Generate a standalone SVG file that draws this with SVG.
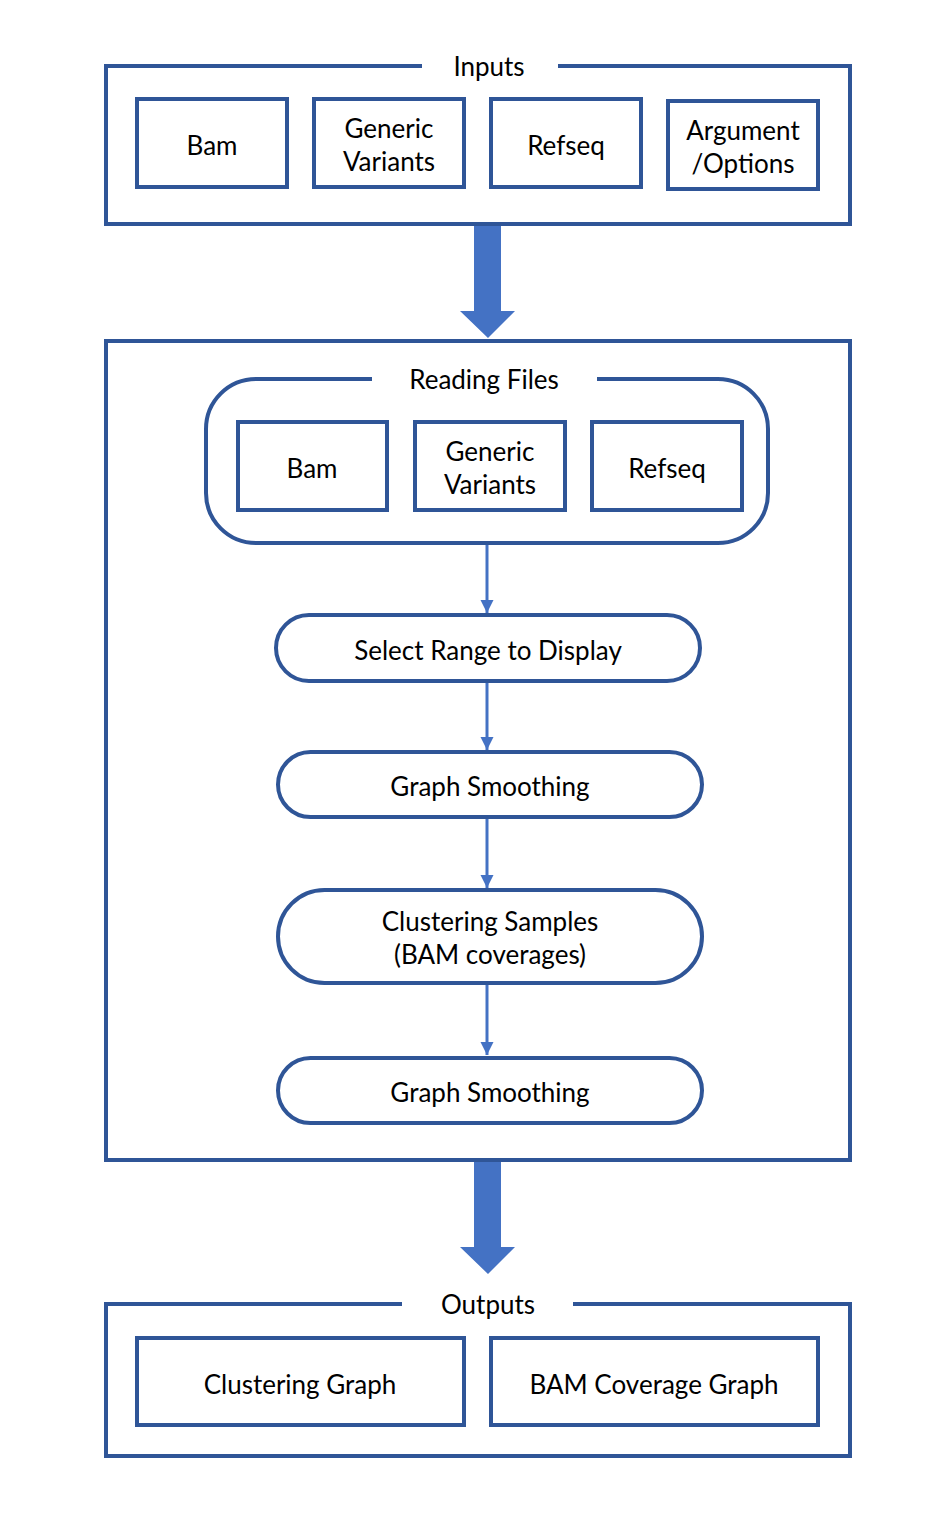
<svg xmlns="http://www.w3.org/2000/svg" width="926" height="1514" viewBox="0 0 926 1514">
<defs>
<style>
.box{fill:#fff;stroke:#2F5597;stroke-width:4}
.frame{fill:none;stroke:#2F5597;stroke-width:4}
.t{font-family:Lato,"Liberation Sans",sans-serif;font-size:26px;fill:#000;text-anchor:middle;dominant-baseline:central}
.conn{stroke:#4472C4;stroke-width:3;fill:none}
.big{fill:#4472C4}
</style>
<marker id="ah" viewBox="0 0 10 10" refX="10" refY="5" markerWidth="4.5" markerHeight="4.5" markerUnits="strokeWidth" orient="auto">
<path d="M0,0 L10,5 L0,10 z" fill="#4472C4"/>
</marker>
</defs>
<rect width="926" height="1514" fill="#fff"/>

<g id="inputs">
<path class="frame" d="M422,66 H106 V224 H850 V66 H558"/>
<text class="t" x="489" y="66">Inputs</text>
</g>
<g id="in-bam"><rect class="box" x="137" y="99" width="150" height="88"/><text class="t" x="212" y="145">Bam</text></g>
<g id="in-gv"><rect class="box" x="314" y="99" width="150" height="88"/><text class="t" x="389" y="128">Generic</text><text class="t" x="389" y="161">Variants</text></g>
<g id="in-refseq"><rect class="box" x="491" y="99" width="150" height="88"/><text class="t" x="566" y="145">Refseq</text></g>
<g id="in-args"><rect class="box" x="668" y="101" width="150" height="88"/><text class="t" x="743" y="130">Argument</text><text class="t" x="743" y="163">/Options</text></g>

<g id="main">
<rect class="frame" x="106" y="341" width="744" height="819"/>
</g>
<g id="reading">
<path class="frame" d="M372,379 H256 A50,50 0 0 0 206,429 V493 A50,50 0 0 0 256,543 H718 A50,50 0 0 0 768,493 V429 A50,50 0 0 0 718,379 H597"/>
<text class="t" x="484" y="379">Reading Files</text>
</g>
<g id="rf-bam"><rect class="box" x="238" y="422" width="149" height="88"/><text class="t" x="312" y="468">Bam</text></g>
<g id="rf-gv"><rect class="box" x="415" y="422" width="150" height="88"/><text class="t" x="490" y="451">Generic</text><text class="t" x="490" y="484">Variants</text></g>
<g id="rf-refseq"><rect class="box" x="592" y="422" width="150" height="88"/><text class="t" x="667" y="468">Refseq</text></g>

<g id="select"><rect class="box" x="276" y="615" width="424" height="66" rx="33"/><text class="t" x="488" y="650">Select Range to Display</text></g>
<g id="smooth1"><rect class="box" x="278" y="752" width="424" height="65" rx="32.5"/><text class="t" x="490" y="786">Graph Smoothing</text></g>
<g id="cluster"><rect class="box" x="278" y="890" width="424" height="93" rx="46.5"/><text class="t" x="490" y="921">Clustering Samples</text><text class="t" x="490" y="954">(BAM coverages)</text></g>
<g id="smooth2"><rect class="box" x="278" y="1058" width="424" height="65" rx="32.5"/><text class="t" x="490" y="1092">Graph Smoothing</text></g>

<g id="outputs">
<path class="frame" d="M402,1304 H106 V1456 H850 V1304 H573"/>
<text class="t" x="488" y="1304">Outputs</text>
</g>
<g id="out-cluster"><rect class="box" x="137" y="1338" width="327" height="87"/><text class="t" x="300" y="1384">Clustering Graph</text></g>
<g id="out-bam"><rect class="box" x="491" y="1338" width="327" height="87"/><text class="t" x="654" y="1384">BAM Coverage Graph</text></g>

<g id="connectors">
<polygon class="big" points="474,226 501,226 501,311 515,311 488,338 460,311 474,311"/>
<polygon class="big" points="474,1162 501,1162 501,1247 515,1247 488,1274 460,1247 474,1247"/>
<line class="conn" x1="487" y1="545" x2="487" y2="613" marker-end="url(#ah)"/>
<line class="conn" x1="487" y1="683" x2="487" y2="750" marker-end="url(#ah)"/>
<line class="conn" x1="487" y1="819" x2="487" y2="888" marker-end="url(#ah)"/>
<line class="conn" x1="487" y1="985" x2="487" y2="1055" marker-end="url(#ah)"/>
</g>
</svg>
